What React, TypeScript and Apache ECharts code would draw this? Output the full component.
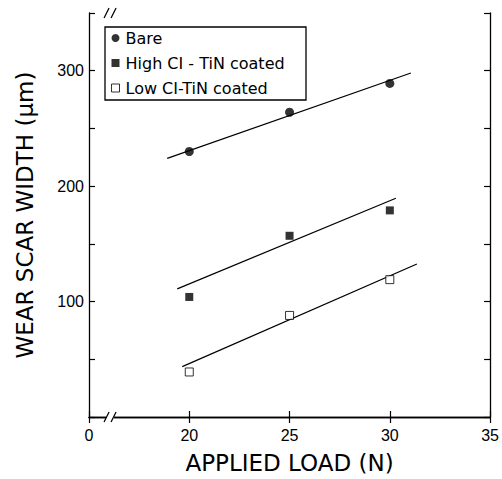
import React, { useEffect, useRef } from "react";
import * as echarts from "echarts";

const loads = [20, 25, 30];
const bare = [230, 264, 289];
const highCI = [104, 157, 179];
const lowCI = [39, 88, 119];

const bareFitX = [18.9, 31.05];
const bareFitY = [224, 298];
const highFitX = [19.4, 30.3];
const highFitY = [111, 189.5];
const lowFitX = [19.65, 31.35];
const lowFitY = [43.6, 132.6];

const xTickLabels: Record<number, string> = { 15: "0", 20: "20", 25: "25", 30: "30", 35: "35" };
const yTickLabels = [100, 200, 300];
const seriesNames = ["Bare", "High CI - TiN coated", "Low CI-TiN coated"];

const FONT = "Liberation Sans";
const NAME_FONT = "DejaVu Sans";

export default function App() {
  const ref = useRef<HTMLDivElement>(null);
  useEffect(() => {
    document.body.style.margin = "0";
    const chart = echarts.init(ref.current!, null, { renderer: "svg" });
    const pts = (ys: number[]) => loads.map((x, i) => [x, ys[i]]);
    const fit = (xs: number[], ys: number[]) => xs.map((x, i) => [x, ys[i]]);
    const axisLine = { show: true, lineStyle: { color: "#000", width: 1.3 } };
    const tick = { show: true, inside: true, length: 6, lineStyle: { color: "#000", width: 1.2 } };
    const fitLine = (d: number[][]) => ({
      type: "line",
      data: d,
      showSymbol: false,
      symbol: "none",
      lineStyle: { color: "#000", width: 1.2 },
      silent: true,
      z: 1,
    });
    chart.setOption({
      animation: false,
      backgroundColor: "#fff",
      grid: { left: 89, right: 11, top: 13, bottom: 62 },
      xAxis: [
        {
          type: "value",
          min: 15,
          max: 35,
          interval: 5,
          axisLine,
          axisTick: tick,
          splitLine: { show: false },
          axisLabel: {
            color: "#000",
            fontFamily: FONT,
            fontSize: 16,
            margin: 10,
            formatter: (v: number) => xTickLabels[v] ?? "",
          },
          name: "APPLIED LOAD (N)",
          nameLocation: "middle",
          nameGap: 34,
          nameTextStyle: { color: "#000", fontFamily: NAME_FONT, fontSize: 23 },
        },
        {
          type: "value",
          position: "top",
          min: 15,
          max: 35,
          interval: 5,
          axisLine,
          axisTick: tick,
          splitLine: { show: false },
          axisLabel: { show: false },
        },
      ],
      yAxis: [
        {
          type: "value",
          min: 0,
          max: 350,
          interval: 50,
          axisLine,
          axisTick: tick,
          splitLine: { show: false },
          axisLabel: {
            color: "#000",
            fontFamily: FONT,
            fontSize: 16,
            margin: 5,
            formatter: (v: number) => (yTickLabels.includes(v) ? String(v) : ""),
          },
          name: "WEAR SCAR WIDTH (μm)",
          nameLocation: "middle",
          nameGap: 53,
          nameTextStyle: { color: "#000", fontFamily: NAME_FONT, fontSize: 23 },
        },
        {
          type: "value",
          position: "right",
          min: 0,
          max: 350,
          interval: 50,
          axisLine,
          axisTick: tick,
          splitLine: { show: false },
          axisLabel: { show: false },
        },
      ],
      legend: {
        orient: "vertical",
        left: 111,
        top: 30,
        itemGap: 9,
        itemWidth: 8,
        itemHeight: 8,
        itemTextStyle: {},
        padding: 0,
        data: [
          { name: seriesNames[0], icon: "circle" },
          { name: seriesNames[1], icon: "rect" },
          { name: seriesNames[2], icon: "rect", itemStyle: { color: "#fff", borderColor: "#000", borderWidth: 1 } },
        ],
        textStyle: { color: "#000", fontFamily: NAME_FONT, fontSize: 16, padding: [0, 0, 0, 1] },
      },
      series: [
        fitLine(fit(bareFitX, bareFitY)),
        fitLine(fit(highFitX, highFitY)),
        fitLine(fit(lowFitX, lowFitY)),
        {
          name: seriesNames[0],
          type: "scatter",
          data: pts(bare),
          symbol: "circle",
          symbolSize: 9,
          itemStyle: { color: "#000" },
          z: 3,
        },
        {
          name: seriesNames[1],
          type: "scatter",
          data: pts(highCI),
          symbol: "rect",
          symbolSize: 8,
          itemStyle: { color: "#000" },
          z: 3,
        },
        {
          name: seriesNames[2],
          type: "scatter",
          data: pts(lowCI),
          symbol: "rect",
          symbolSize: 8,
          itemStyle: { color: "#fff", borderColor: "#000", borderWidth: 1 },
          z: 3,
        },
      ],
    });

    const bl = chart.convertToPixel({ xAxisIndex: 0, yAxisIndex: 0 }, [16.05, 0]) as number[];
    const tl = chart.convertToPixel({ xAxisIndex: 0, yAxisIndex: 0 }, [16.05, 350]) as number[];
    const breakMark = (cx: number, cy: number) => [
      { type: "rect", shape: { x: cx - 4, y: cy - 3, width: 8, height: 6 }, style: { fill: "#fff" }, z: 100 },
      { type: "line", shape: { x1: cx - 6, y1: cy + 5, x2: cx - 1, y2: cy - 5 }, style: { stroke: "#000", lineWidth: 1.2 }, z: 101 },
      { type: "line", shape: { x1: cx + 1, y1: cy + 5, x2: cx + 6, y2: cy - 5 }, style: { stroke: "#000", lineWidth: 1.2 }, z: 101 },
    ];
    chart.setOption({
      graphic: [
        {
          type: "rect",
          shape: { x: 105, y: 27, width: 201, height: 73 },
          style: { fill: "none", stroke: "#000", lineWidth: 1.3 },
          z: 50,
        },
        ...breakMark(bl[0], bl[1]),
        ...breakMark(tl[0], tl[1]),
      ],
    });
    return () => chart.dispose();
  }, []);
  return <div ref={ref} style={{ width: 502, height: 479 }} />;
}
